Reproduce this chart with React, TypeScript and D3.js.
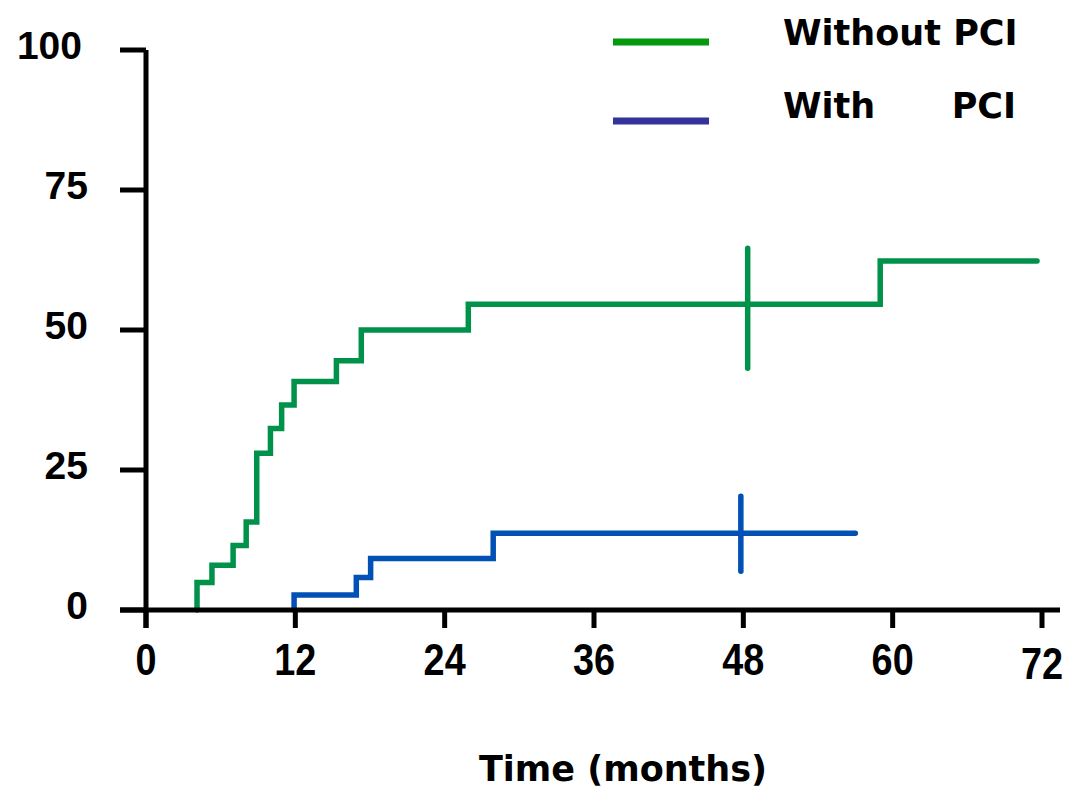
import * as d3 from "d3";

// cumulative incidence (%)
const withoutTimes = [4.1, 5.3, 7.0, 8.05, 8.9, 10.0, 10.9, 11.9, 15.3, 17.3, 25.9, 59.0];
const withoutValues = [4.9, 8.0, 11.5, 15.7, 28.0, 32.4, 36.6, 40.8, 44.5, 50.0, 54.6, 62.3];
const withoutEnd = 71.6;
const withoutCensor = [48.35];

const withTimes = [11.9, 16.9, 18.05, 27.9];
const withValues = [2.7, 5.8, 9.2, 13.7];
const withEnd = 57.0;
const withCensor = [47.8];

const xTicks = [0, 12, 24, 36, 48, 60, 72];
const yTicks = [0, 25, 50, 75, 100];

const width = 1068;
const height = 793;

const x = d3.scaleLinear().domain([0, 72]).range([146, 1042]);
const y = d3.scaleLinear().domain([0, 100]).range([610, 50]);

type Pt = [number, number];

const buildSteps = (times: number[], values: number[], end: number): Pt[] => {
    const pts: Pt[] = [[times[0], 0]];
    times.forEach((t, i) => pts.push([t, values[i]]));
    pts.push([end, values[values.length - 1]]);
    return pts;
};

// value of a step curve at time t
const valueAt = (times: number[], values: number[], t: number) => {
    let v = 0;
    times.forEach((tt, i) => { if (tt <= t) v = values[i]; });
    return v;
};

const line = d3.line<Pt>()
    .x(d => x(d[0]))
    .y(d => y(d[1]))
    .curve(d3.curveStepAfter);

const green = "#00924a";
const blue = "#0050b5";

export default function App() {
    const greenPts = buildSteps(withoutTimes, withoutValues, withoutEnd);
    const bluePts = buildSteps(withTimes, withValues, withEnd);
    const tickFont = "'Liberation Sans', Arial, sans-serif";
    const textFont = "'DejaVu Sans', Verdana, sans-serif";

    return (
        <svg width={width} height={height} style={{ position: "absolute", left: 0, top: 0, background: "#fff" }}>
            {/* curves */}
            <path d={line(greenPts) ?? ""} fill="none" stroke={green} strokeWidth={5.5} strokeLinecap="round" />
            <path d={line(bluePts) ?? ""} fill="none" stroke={blue} strokeWidth={5.5} strokeLinecap="round" />
            {withoutCensor.map(t => {
                const cy = y(valueAt(withoutTimes, withoutValues, t));
                return <line key={t} x1={x(t)} x2={x(t)} y1={cy - 56} y2={cy + 64} stroke={green} strokeWidth={5.5} strokeLinecap="round" />;
            })}
            {withCensor.map(t => {
                const cy = y(valueAt(withTimes, withValues, t));
                return <line key={t} x1={x(t)} x2={x(t)} y1={cy - 37} y2={cy + 38} stroke={blue} strokeWidth={5.5} strokeLinecap="round" />;
            })}

            {/* axes */}
            <line x1={x(0)} x2={x(0)} y1={y(100)} y2={y(0) + 18} stroke="#000" strokeWidth={5} />
            <line x1={120} x2={1060} y1={y(0)} y2={y(0)} stroke="#000" strokeWidth={5} />
            {yTicks.map(t => (
                <g key={t}>
                    <line x1={120} x2={x(0)} y1={y(t)} y2={y(t)} stroke="#000" strokeWidth={5} />
                    <text x={t === 100 ? 82 : 88} y={y(t) - 5} dy="0.36em" textAnchor="end" fontFamily={tickFont} fontWeight="bold" fontSize={39}>{t}</text>
                </g>
            ))}
            {xTicks.map(t => (
                <g key={t}>
                    <line x1={x(t)} x2={x(t)} y1={y(0)} y2={y(0) + 18} stroke="#000" strokeWidth={5} />
                    <text x={x(t)} y={t === 72 ? 679 : 675} textAnchor="middle" fontFamily={tickFont} fontWeight="bold" fontSize={44}
                        transform={`translate(${x(t)},0) scale(0.86,1) translate(${-x(t)},0)`}>{t}</text>
                </g>
            ))}
            <text x={623} y={781} textAnchor="middle" fontFamily={textFont} fontWeight="bold" fontSize={35}>Time (months)</text>

            {/* legend */}
            <line x1={613} x2={709} y1={42} y2={42} stroke="#05990f" strokeWidth={7} />
            <line x1={613} x2={709} y1={121} y2={121} stroke="#333399" strokeWidth={7} />
            <text x={783} y={45} fontFamily={textFont} fontWeight="bold" fontSize={35}>Without PCI</text>
            <text x={783} y={118} fontFamily={textFont} fontWeight="bold" fontSize={35}>With</text>
            <text x={1016} y={118} textAnchor="end" fontFamily={textFont} fontWeight="bold" fontSize={35}>PCI</text>
        </svg>
    );
}
